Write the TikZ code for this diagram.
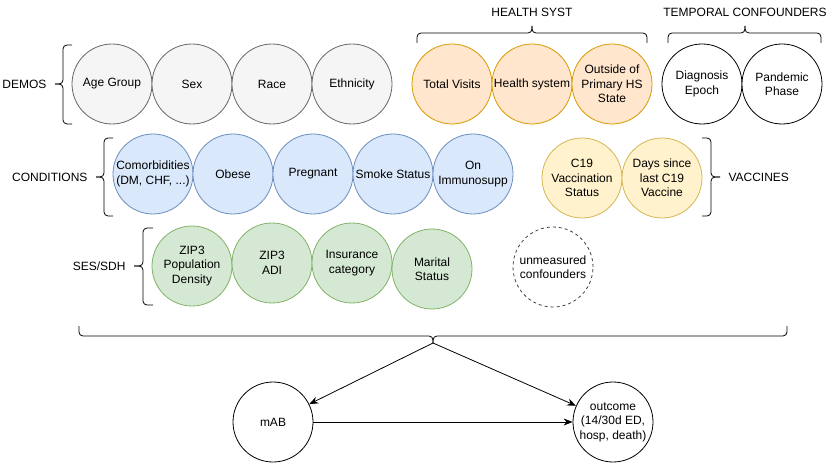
\documentclass[tikz,border=0pt]{standalone}
\usepackage{fontspec}
\setmainfont{Liberation Sans}
\usetikzlibrary{arrows.meta}

\definecolor{demofill}{HTML}{F5F5F5}
\definecolor{demoline}{HTML}{666666}
\definecolor{condfill}{HTML}{DAE8FC}
\definecolor{condline}{HTML}{6C8EBF}
\definecolor{hsfill}{HTML}{FFE6CC}
\definecolor{hsline}{HTML}{D79B00}
\definecolor{vacfill}{HTML}{FFF2CC}
\definecolor{vacline}{HTML}{D6B656}
\definecolor{sesfill}{HTML}{D5E8D4}
\definecolor{sesline}{HTML}{82B366}

\begin{document}
\begin{tikzpicture}[
  x=1pt, y=-1pt,
  font=\fontsize{12}{14.5}\selectfont,
  var/.style={circle, draw, minimum size=80pt, inner sep=0pt, align=center, line width=0.8pt},
  demo/.style={var, fill=demofill, draw=demoline},
  cond/.style={var, fill=condfill, draw=condline},
  hs/.style={var, fill=hsfill, draw=hsline},
  vac/.style={var, fill=vacfill, draw=vacline},
  ses/.style={var, fill=sesfill, draw=sesline},
  brc/.style={draw, line width=0.8pt, rounded corners=4pt},
  arr/.style={-{Stealth[length=9pt, width=7pt]}, line width=0.8pt}
]
  \useasboundingbox (0,0) rectangle (830,465);

  % demographics
  \foreach \lbl [count=\i] in {Age Group, Sex, Race, Ethnicity} {
    \node[demo] (d\i) at ({32+80*\i},84) {\lbl};
  }
  \draw[brc] (72,45) -| (63,84) -- (55,84);
  \draw[brc] (72,124) -| (63,84) -- (55,84);
  \node[anchor=east] (demos) at (50,84) {DEMOS};

  % health system
  \node[hs] (h1) at (452,84) {Total Visits};
  \node[hs] (h2) at (532,84) {Health system};
  \node[hs] (h3) at (612,84) {Outside of\\Primary HS\\State};
  \draw[brc] (417,43) |- (532,33) -- (532,26);
  \draw[brc] (647,43) |- (532,33) -- (532,26);
  \node (hsyst) at (532,12) {HEALTH SYST};

  % temporal
  \node[var, fill=white] (t1) at (702,84) {Diagnosis\\Epoch};
  \node[var, fill=white] (t2) at (782,84) {Pandemic\\Phase};
  \draw[brc] (668,43) |- (745,33) -- (745,26);
  \draw[brc] (821,43) |- (745,33) -- (745,26);
  \node (temporal) at (745,12) {TEMPORAL CONFOUNDERS};

  % conditions
  \node[cond] (c1) at (153,174) {Comorbidities\\(DM, CHF, ...)};
  \node[cond] (c2) at (233,174) {Obese};
  \node[cond] (c3) at (313,174) {Pregnant};
  \node[cond] (c4) at (393,174) {Smoke Status};
  \node[cond] (c5) at (473,174) {On\\Immunosupp};
  \draw[brc] (113,138) -| (104,177) -- (96,177);
  \draw[brc] (113,216) -| (104,177) -- (96,177);
  \node[anchor=east] (conds) at (91,177) {CONDITIONS};

  % vaccines
  \node[vac] (v1) at (582,178) {C19\\Vaccination\\Status};
  \node[vac] (v2) at (662,178) {Days since\\last C19\\Vaccine};
  \draw[brc] (702,138) -| (711,177) -- (720,177);
  \draw[brc] (702,216) -| (711,177) -- (720,177);
  \node[anchor=west] (vaccines) at (725,177) {VACCINES};

  % ses / sdh
  \node[ses] (s1) at (192,266) {ZIP3\\Population\\Density};
  \node[ses] (s2) at (272,263) {ZIP3\\ADI};
  \node[ses] (s3) at (352,263) {Insurance\\category};
  \node[ses] (s4) at (432,269) {Marital\\Status};
  \draw[brc] (153,228) -| (143,266) -- (134,266);
  \draw[brc] (153,305) -| (143,266) -- (134,266);
  \node[anchor=east] (sessdh) at (129,266) {SES/SDH};

  \node[var, dashed, draw=black!75] (unmeas) at (553,267) {unmeasured\\confounders};

  % all confounders
  \draw[brc] (79,326) |- (433,336) -- (433,343);
  \draw[brc] (787,326) |- (433,336) -- (433,343);
  \coordinate (tip) at (433,343);

  \node[var] (mab) at (273,422) {mAB};
  \node[var] (outcome) at (613,422) {outcome\\(14/30d ED,\\hosp, death)};

  \draw[arr] (tip) -- (mab);
  \draw[arr] (tip) -- (outcome);
  \draw[arr] (mab) -- (outcome);
\end{tikzpicture}
\end{document}
